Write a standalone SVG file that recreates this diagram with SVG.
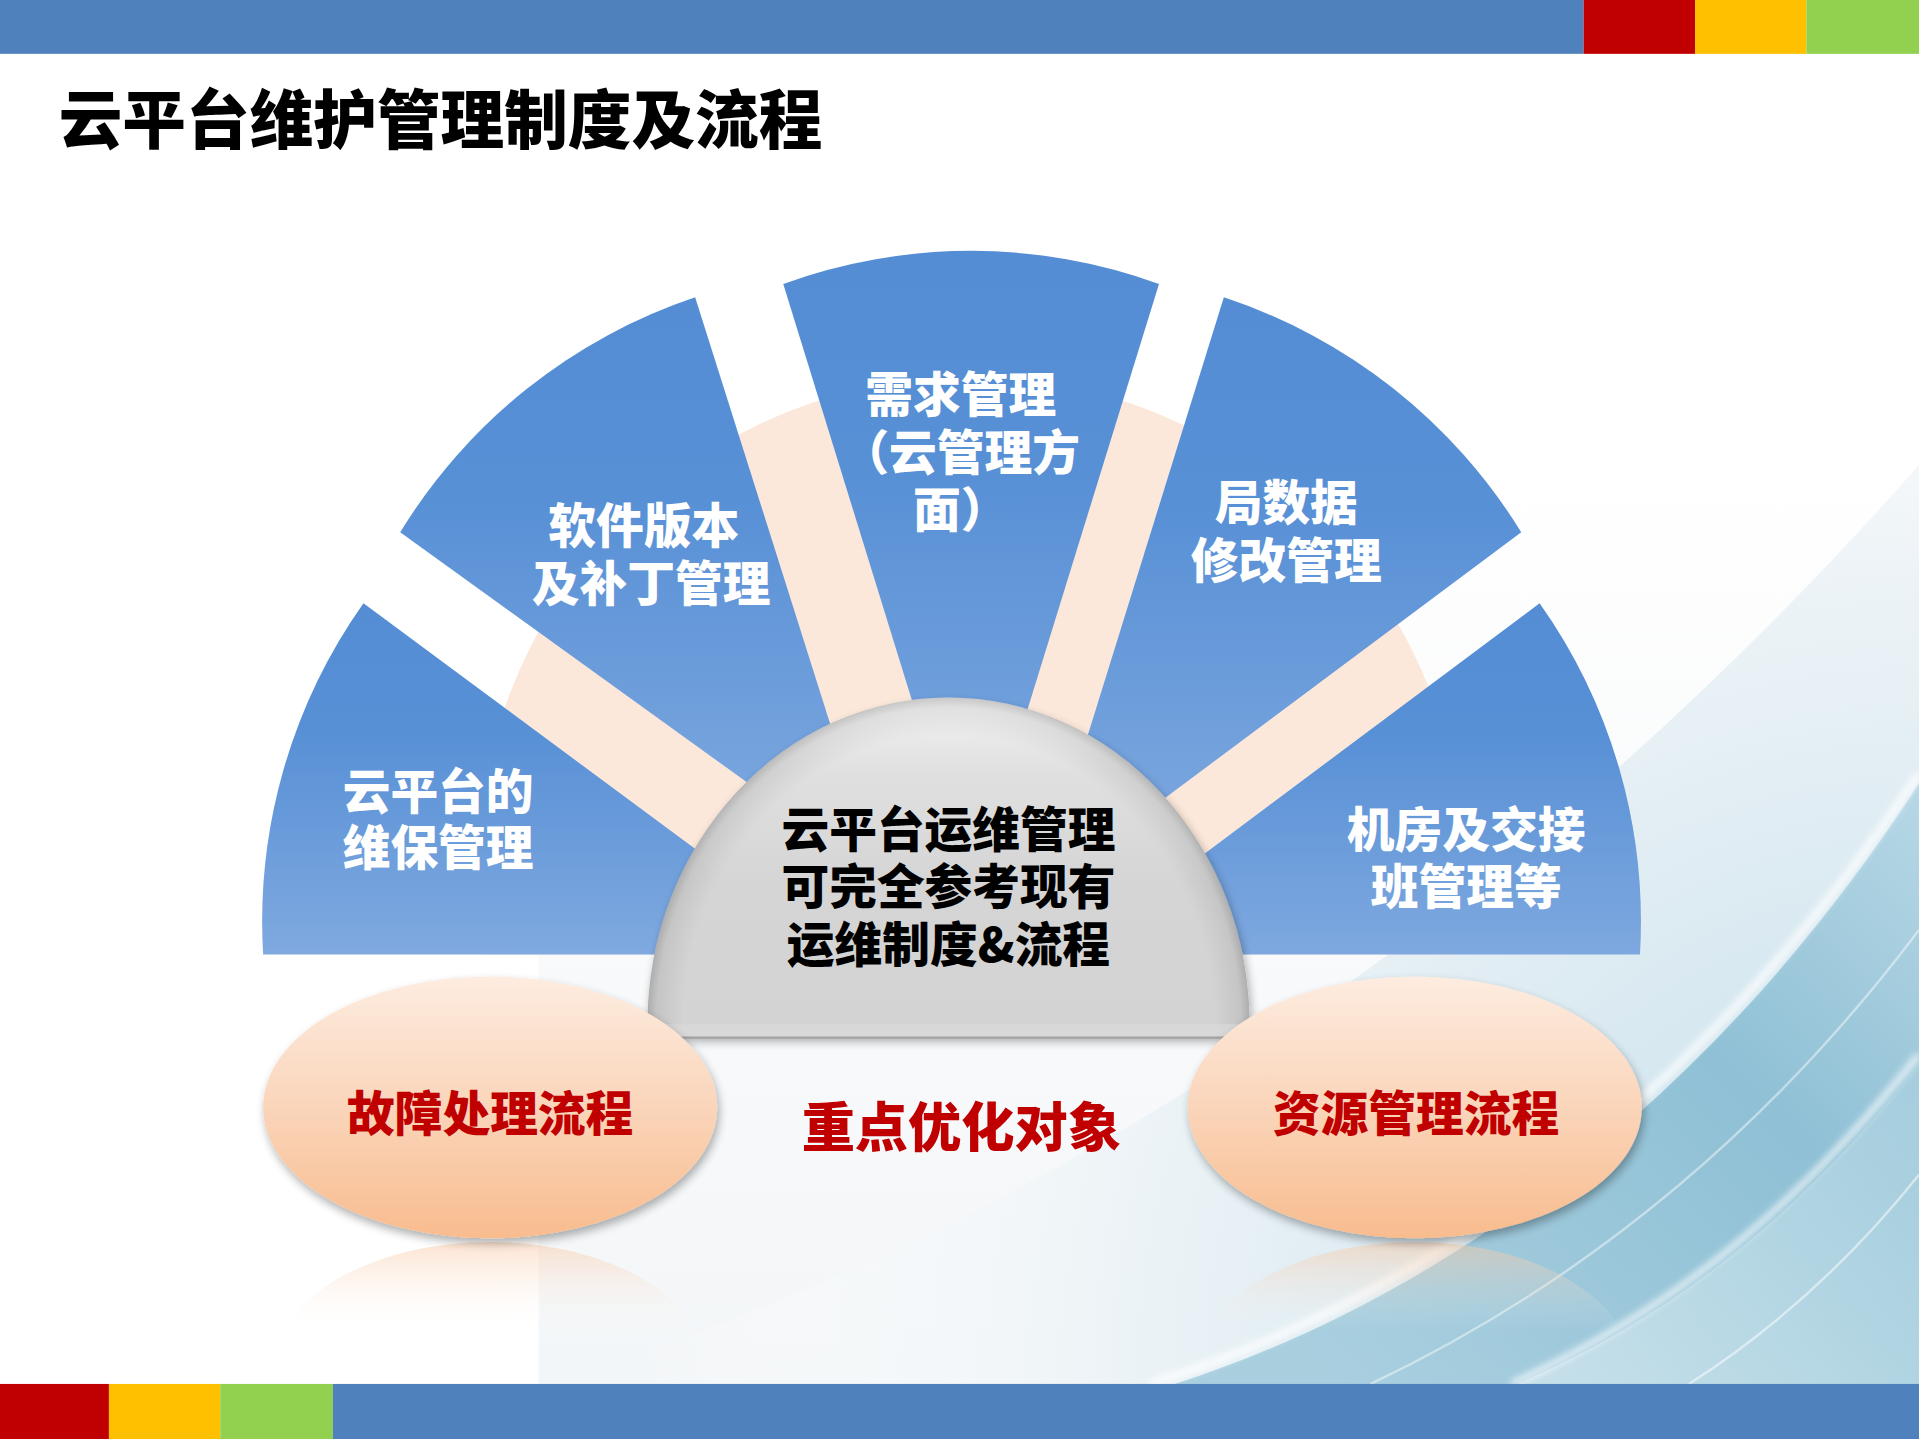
<svg xmlns="http://www.w3.org/2000/svg" width="1919" height="1439" viewBox="0 0 1919 1439">
<defs>
  <linearGradient id="gSector" x1="0" y1="0" x2="0" y2="1">
    <stop offset="0" stop-color="#548DD4"/>
    <stop offset="0.35" stop-color="#5890D6"/>
    <stop offset="1" stop-color="#82ABE0"/>
  </linearGradient>
  <linearGradient id="gDome" x1="0" y1="0" x2="0" y2="1">
    <stop offset="0" stop-color="#F4F4F4"/>
    <stop offset="0.22" stop-color="#E0E0E0"/>
    <stop offset="0.55" stop-color="#D5D5D5"/>
    <stop offset="1" stop-color="#D3D3D3"/>
  </linearGradient>
  <radialGradient id="gDomeEdge" gradientUnits="userSpaceOnUse" cx="775" cy="837" r="246" gradientTransform="translate(775 837) scale(1 1.085) translate(-775 -837)">
    <stop offset="0" stop-color="#000" stop-opacity="0"/>
    <stop offset="0.88" stop-color="#000" stop-opacity="0"/>
    <stop offset="0.97" stop-color="#000" stop-opacity="0.07"/>
    <stop offset="1" stop-color="#000" stop-opacity="0.18"/>
  </radialGradient>
  <linearGradient id="gOval" x1="0" y1="0" x2="0" y2="1">
    <stop offset="0" stop-color="#FDECE0"/>
    <stop offset="0.5" stop-color="#FAD5BA"/>
    <stop offset="1" stop-color="#F8BC8E"/>
  </linearGradient>
  <linearGradient id="gRefl" gradientUnits="userSpaceOnUse" x1="0" y1="1014" x2="0" y2="1088">
    <stop offset="0" stop-color="#F8C6A0" stop-opacity="0.5"/>
    <stop offset="0.5" stop-color="#FBDCC6" stop-opacity="0.22"/>
    <stop offset="1" stop-color="#FFFFFF" stop-opacity="0"/>
  </linearGradient>
  <radialGradient id="gWash" gradientUnits="userSpaceOnUse" cx="1568" cy="1131" r="1050">
    <stop offset="0" stop-color="#BCD9E6"/>
    <stop offset="0.35" stop-color="#D9E9F1"/>
    <stop offset="0.65" stop-color="#EEF4F7"/>
    <stop offset="1" stop-color="#FFFFFF" stop-opacity="0"/>
  </radialGradient>
  <linearGradient id="gBand" gradientUnits="userSpaceOnUse" x1="1568" y1="650" x2="1100" y2="1131">
    <stop offset="0" stop-color="#B6D7E5"/>
    <stop offset="0.4" stop-color="#8FC0D5"/>
    <stop offset="1" stop-color="#A9CFDF"/>
  </linearGradient>
  <linearGradient id="gBand2" gradientUnits="userSpaceOnUse" x1="1568" y1="870" x2="1240" y2="1131">
    <stop offset="0" stop-color="#A6CEDE"/>
    <stop offset="1" stop-color="#CBE3EC"/>
  </linearGradient>
  <linearGradient id="gPanel" x1="0" y1="0" x2="0" y2="1">
    <stop offset="0" stop-color="#F5F7F9" stop-opacity="0"/>
    <stop offset="0.45" stop-color="#F5F7F9" stop-opacity="0.6"/>
    <stop offset="1" stop-color="#F3F6F8"/>
  </linearGradient>
  <filter id="fShadow" x="-20%" y="-20%" width="140%" height="150%">
    <feGaussianBlur in="SourceAlpha" stdDeviation="4"/>
    <feOffset dx="2" dy="4" result="b"/>
    <feComponentTransfer><feFuncA type="linear" slope="0.32"/></feComponentTransfer>
    <feMerge><feMergeNode/><feMergeNode in="SourceGraphic"/></feMerge>
  </filter>
  <filter id="fBlur" x="-10%" y="-10%" width="120%" height="120%">
    <feGaussianBlur stdDeviation="3"/>
  </filter>
</defs>
<style>
  .wt{fill:#FFFFFF;font-family:"Noto Sans CJK SC","Noto Sans",sans-serif;font-weight:900;font-size:39px;text-anchor:middle}
  .bk{fill:#000000;font-family:"Noto Sans CJK SC","Noto Sans",sans-serif;font-weight:900;font-size:39px;text-anchor:middle}
  .rd{fill:#C00000;font-family:"Noto Sans CJK SC","Noto Sans",sans-serif;font-weight:900;font-size:39px;text-anchor:middle}
  .sector{fill:url(#gSector)}
  .oval{fill:url(#gOval);filter:url(#fShadow)}
  .refl{fill:url(#gRefl)}
</style>
<rect x="0" y="0" width="1919" height="1439" fill="#FFFFFF"/>
<g transform="scale(1.223852 1.223639)">
  <g id="background">
    <rect x="440" y="380" width="1128" height="751" fill="url(#gPanel)"/>
    <path d="M440,1131 C760,1040 1180,820 1568,380 L1568,1131 Z" fill="url(#gWash)"/>
    <path d="M960,1131 C1180,1060 1400,900 1568,640 L1568,1131 Z" fill="url(#gBand)"/>
    <path d="M1240,1131 C1380,1070 1480,980 1568,870 L1568,1131 Z" fill="url(#gBand2)" opacity="0.9"/>
    <path d="M940,1131 C1170,1058 1395,895 1568,632" fill="none" stroke="#FFFFFF" stroke-width="6" opacity="0.85" filter="url(#fBlur)"/>
    <path d="M1235,1131 C1378,1066 1478,975 1568,862" fill="none" stroke="#FFFFFF" stroke-width="5" opacity="0.8" filter="url(#fBlur)"/>
    <path d="M1120,1131 C1290,1050 1440,930 1568,760" fill="none" stroke="#FFFFFF" stroke-width="2" opacity="0.45"/>
    <path d="M1380,1131 C1460,1080 1520,1020 1568,960" fill="none" stroke="#FFFFFF" stroke-width="2" opacity="0.5"/>
  </g>
  <g id="top-bar">
    <rect x="0" y="0" width="1294" height="44" fill="#4F81BD"/>
    <rect x="1294" y="0" width="91" height="44" fill="#C00000"/>
    <rect x="1385" y="0" width="91" height="44" fill="#FFC000"/>
    <rect x="1476" y="0" width="92" height="44" fill="#92D050"/>
  </g>
  <text id="title" x="48" y="117" font-family="'Noto Sans CJK SC','Noto Sans',sans-serif" font-weight="900" font-size="52" fill="#000000">云平台维护管理制度及流程</text>

  <path id="peach-ring" d="M396,780 A403,403 0 1 1 1190,780 Z" fill="#FCE8DA"/>

  <g id="sector-1">
    <path class="sector" d="M215,780 A450,450 0 0 1 297,493 L700,791.5 L700,780 Z"/>
    <text class="wt" x="358" y="661">云平台的</text>
    <text class="wt" x="358" y="707">维保管理</text>
  </g>
  <g id="sector-2">
    <path class="sector" d="M327,435 A450,450 0 0 1 568,243 L718,717 Z"/>
    <text class="wt" x="526" y="444">软件版本</text>
    <text class="wt" x="532" y="491">及补丁管理</text>
  </g>
  <g id="sector-3">
    <path class="sector" d="M640,232 A450,450 0 0 1 947,232 L793.5,729 Z"/>
    <text class="wt" x="785" y="337">需求管理</text>
    <text class="wt" x="785" y="384">（云管理方</text>
    <text class="wt" x="785" y="431">面）</text>
  </g>
  <g id="sector-4">
    <path class="sector" d="M1000,243 A450,450 0 0 1 1243,435 L849,729 Z"/>
    <text class="wt" x="1051" y="425">局数据</text>
    <text class="wt" x="1051" y="472">修改管理</text>
  </g>
  <g id="sector-5">
    <path class="sector" d="M1258,493 A450,450 0 0 1 1340,780 L850,780 L850,798 Z"/>
    <text class="wt" x="1198" y="692">机房及交接</text>
    <text class="wt" x="1198" y="739">班管理等</text>
  </g>

  <g id="center-dome">
    <g filter="url(#fShadow)">
      <path d="M529,837 A246,267 0 0 1 1021,837 L1004,847 L546,847 Z" fill="url(#gDome)"/>
    </g>
    <path d="M529,837 A246,267 0 0 1 1021,837 L1004,847 L546,847 Z" fill="url(#gDomeEdge)"/>
    <path d="M529,837 L546,847 L1004,847 L1021,837 Z" fill="#DADADA" opacity="0.7"/>
    <line x1="546" y1="848" x2="1004" y2="848" stroke="#A3A3A3" stroke-width="1.8"/>
    <text class="bk" x="775" y="692">云平台运维管理</text>
    <text class="bk" x="775" y="739">可完全参考现有</text>
    <text class="bk" x="775" y="786">运维制度&amp;流程</text>
  </g>

  <g id="oval-left">
    <ellipse class="refl" cx="400.5" cy="1120" rx="178" ry="105"/>
    <ellipse class="oval" cx="400.5" cy="905" rx="185.5" ry="107"/>
    <text class="rd" x="400.5" y="924">故障处理流程</text>
  </g>
  <g id="oval-right">
    <ellipse class="refl" cx="1156" cy="1120" rx="178" ry="105"/>
    <ellipse class="oval" cx="1156" cy="905" rx="185.5" ry="107"/>
    <text class="rd" x="1157" y="924">资源管理流程</text>
  </g>

  <text id="focus-label" class="rd" x="785.5" y="937" style="font-size:43.5px">重点优化对象</text>

  <g id="bottom-bar">
    <rect x="0" y="1131" width="89" height="45" fill="#C00000"/>
    <rect x="89" y="1131" width="91" height="45" fill="#FFC000"/>
    <rect x="180" y="1131" width="92" height="45" fill="#92D050"/>
    <rect x="272" y="1131" width="1296" height="45" fill="#4F81BD"/>
  </g>
</g>
</svg>
